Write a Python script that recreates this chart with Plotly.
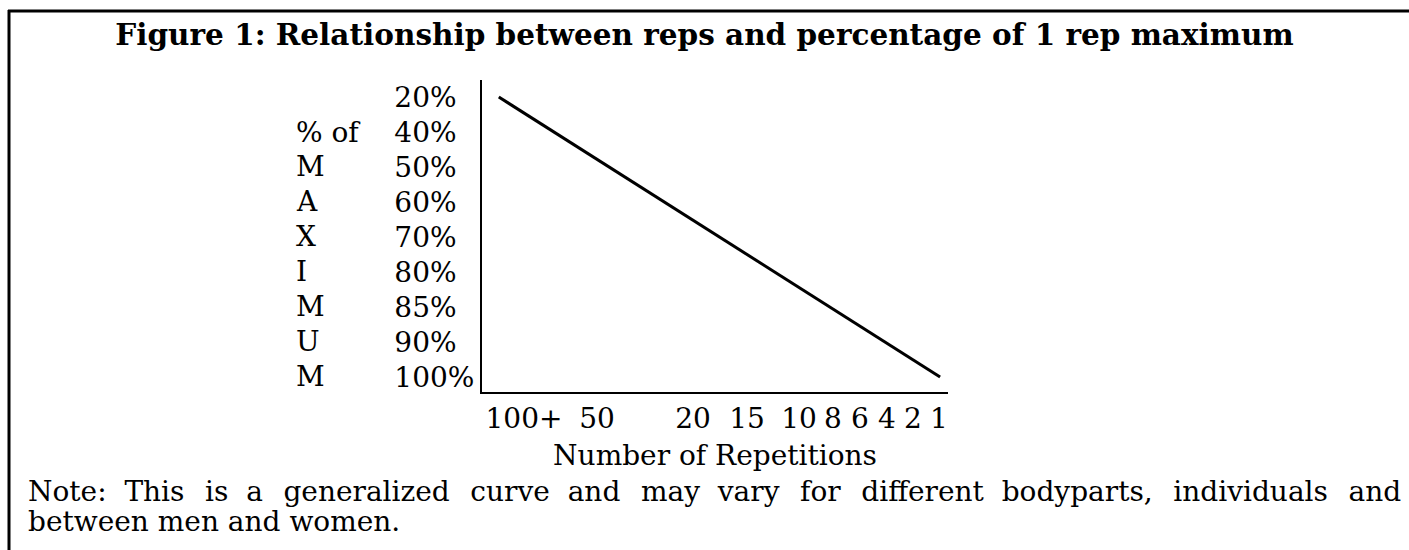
import plotly.graph_objects as go

# ---- data ----
pct_labels = ["20%", "40%", "50%", "60%", "70%", "80%", "85%", "90%", "100%"]
side_labels = ["% of", "M", "A", "X", "I", "M", "U", "M"]   # rows 40% .. 100%
rep_labels = ["100+", "50", "20", "15", "10", "8", "6", "4", "2", "1"]
# curve endpoints (x as fraction of the repetition axis, y as % category)
curve_x = [0.036, 0.983]
curve_y = ["20%", "100%"]

title_text = "Figure 1: Relationship between reps and percentage of 1 rep maximum"
x_title = "Number of Repetitions"
note_1 = "Note: This is a generalized curve and may vary for different bodyparts, individuals and"
note_2 = "between men and women."

# ---- layout helpers ----
W, H = 1409, 550
ML, MR, MT, MB = 482, 1409 - 948, 80, 550 - 392
PW, PH = W - ML - MR, H - MT - MB
FONT = "DejaVu Serif"
FS = 28


def px(x):          # page pixel -> paper x
    return (x - ML) / PW


def py(y):          # page pixel -> paper y
    return (H - MB - y) / PH


rep_tick_pos = [px(v) for v in (524, 597, 693, 747, 799, 833, 860, 887, 913, 939)]
maxlen = max(len(s) for s in pct_labels)
pct_ticktext = [s + "\u2007" * (maxlen - len(s)) for s in pct_labels]

# justify the first note line by widening the word gaps (spread evenly)
words = note_1.split(" ")
n_gaps = len(words) - 1
n_extra = 8
parts = [words[0]]
for i in range(n_gaps):
    extra = (i + 1) * n_extra // n_gaps > i * n_extra // n_gaps
    parts.append(("\u00a0\u200a " if extra else "\u00a0 ") + words[i + 1])
note_1_just = "".join(parts)

fig = go.Figure()
fig.add_trace(go.Scatter(x=curve_x, y=curve_y, mode="lines",
                         line=dict(color="black", width=3), showlegend=False,
                         hoverinfo="skip"))

annotations = []
for lab, cat in zip(side_labels, pct_labels[1:]):
    annotations.append(dict(text=lab, x=px(294), xref="paper", xanchor="left",
                            y=cat, yref="y", yanchor="middle", showarrow=False,
                            font=dict(family=FONT, size=FS, color="black")))
annotations.append(dict(text=note_1_just, x=px(26), xref="paper", xanchor="left",
                        y=py(491), yref="paper", yanchor="middle", showarrow=False,
                        font=dict(family=FONT, size=FS, color="black")))
annotations.append(dict(text=note_2, x=px(26), xref="paper", xanchor="left",
                        y=py(521), yref="paper", yanchor="middle", showarrow=False,
                        font=dict(family=FONT, size=FS, color="black")))

shapes = [
    dict(type="line", xref="paper", yref="paper", x0=px(8), x1=px(1409),
         y0=py(11), y1=py(11), line=dict(color="black", width=3)),
    dict(type="line", xref="paper", yref="paper", x0=px(9), x1=px(9),
         y0=py(10), y1=py(550), line=dict(color="black", width=3)),
]

fig.update_layout(
    width=W, height=H,
    margin=dict(l=ML, r=MR, t=MT, b=MB, pad=0),
    paper_bgcolor="white", plot_bgcolor="white",
    font=dict(family=FONT, size=FS, color="black"),
    title=dict(text="<b>" + title_text + "</b>", x=0.5, xref="container",
               xanchor="center", y=1 - 35 / H, yref="container",
               yanchor="middle",
               font=dict(family=FONT, size=29.5, color="black")),
    xaxis=dict(range=[0, 1], tickvals=rep_tick_pos, ticktext=rep_labels,
               showline=True, linewidth=2, linecolor="black", ticks="",
               showgrid=False, zeroline=False, fixedrange=True,
               title=dict(text=x_title, standoff=12,
                          font=dict(family=FONT, size=FS, color="black")),
               tickfont=dict(family=FONT, size=FS, color="black")),
    yaxis=dict(type="category", categoryarray=pct_labels,
               tickvals=pct_labels, ticktext=pct_ticktext,
               range=[8.43, -0.486], showline=True, linewidth=2,
               linecolor="black", ticks="", showgrid=False, zeroline=False,
               fixedrange=True, tickfont=dict(family=FONT, size=FS, color="black")),
    annotations=annotations,
    shapes=shapes,
)

fig.write_html("out.html",
               config={"displayModeBar": False, "staticPlot": True},
               post_script="document.body.style.margin='0';"
                           "document.body.style.overflow='hidden';")
